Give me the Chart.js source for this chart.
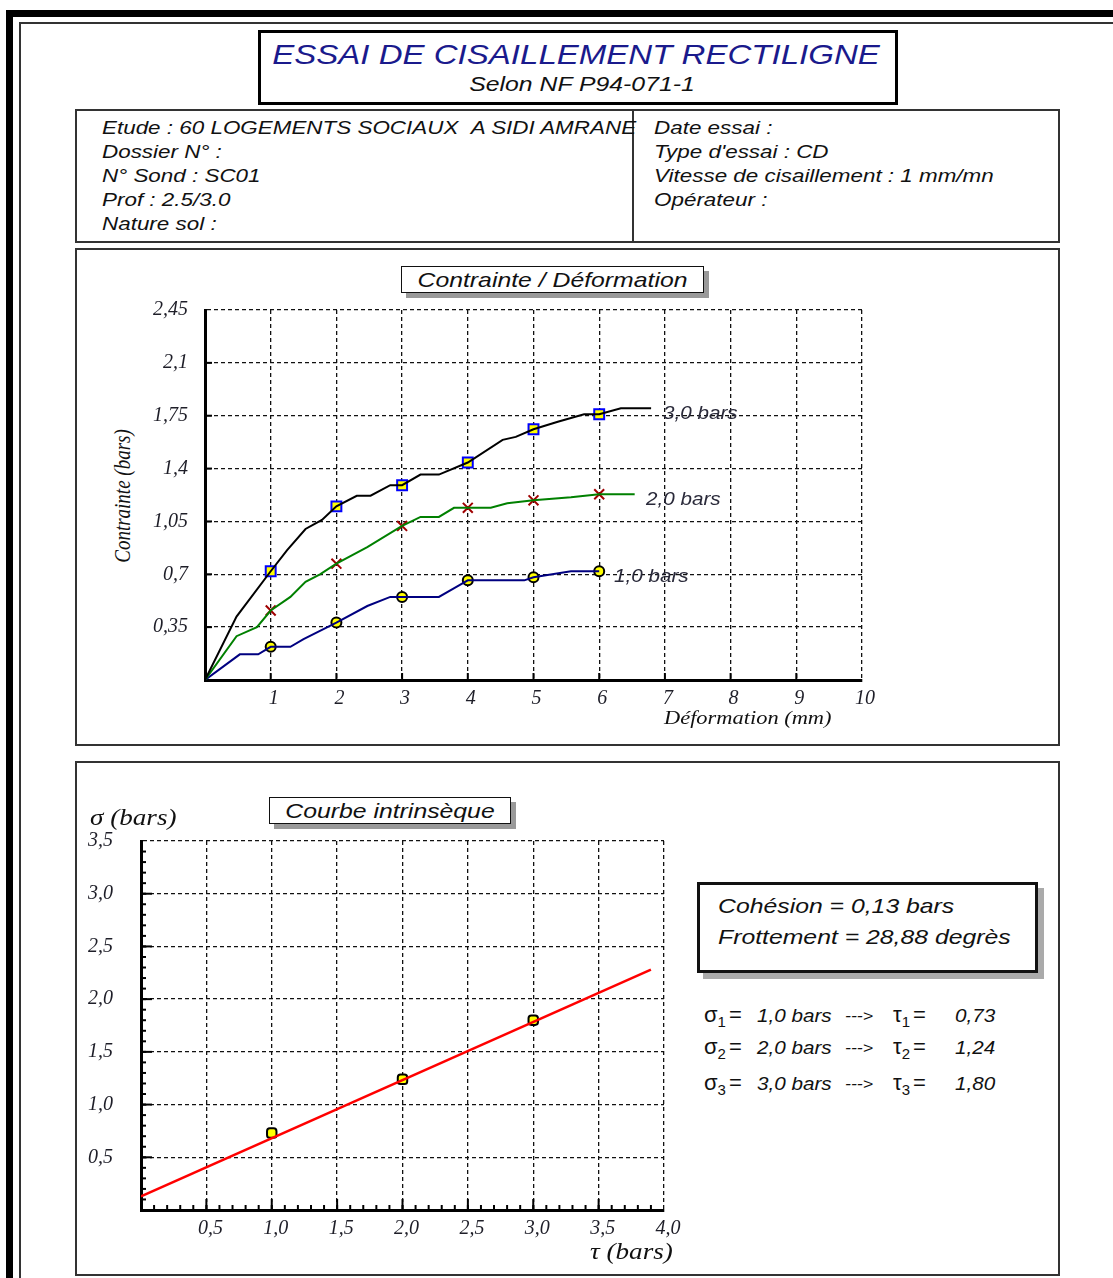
<!DOCTYPE html>
<html>
<head>
<meta charset="utf-8">
<script src="https://cdn.jsdelivr.net/npm/chart.js@4.4.1/dist/chart.umd.min.js"></script>
<style>
  * { box-sizing: border-box; }
  body { margin: 0; background: #fff; }
  #page { position: relative; width: 1113px; height: 1278px; overflow: hidden; background: #fff;
          font-family: "Liberation Sans", Arial, sans-serif; color: #111; }
  .abs { position: absolute; white-space: nowrap; }
  .box { position: absolute; border: 2px solid #333; background: #fff; }
  .it { font-style: italic; }
  .serif { font-family: "Liberation Serif", "Times New Roman", serif; font-style: italic; }
  .sx { transform: scaleX(1.18); transform-origin: left top; }
  .sxc { transform: scaleX(1.18); transform-origin: center top; }
  canvas { position: absolute; }
</style>
</head>
<body>
<div id="page">
  <!-- cadre -->
  <div class="abs" style="left:6px;top:10px;width:1107px;height:7px;background:#000"></div>
  <div class="abs" style="left:6px;top:10px;width:7px;height:1268px;background:#000"></div>
  <div class="abs" style="left:19px;top:22px;width:1094px;height:2px;background:#333"></div>
  <div class="abs" style="left:19px;top:22px;width:2px;height:1256px;background:#333"></div>

  <!-- titre -->
  <div class="box" style="left:258px;top:30px;width:640px;height:75px;border:3px solid #000"></div>
  <div class="abs it sxc" style="left:256px;top:39px;width:640px;text-align:center;font-size:28px;line-height:32px;color:#1a1a8c">ESSAI DE CISAILLEMENT RECTILIGNE</div>
  <div class="abs it sxc" style="left:262px;top:72px;width:640px;text-align:center;font-size:21px;line-height:24px">Selon NF P94-071-1</div>

  <!-- infos -->
  <div class="box" style="left:75px;top:109px;width:985px;height:134px"></div>
  <div class="abs" style="left:632px;top:110px;width:2px;height:132px;background:#333"></div>
  <div class="abs it sx" style="left:102px;top:116px;font-size:19px;line-height:24px">
    Etude : 60 LOGEMENTS SOCIAUX &nbsp;A SIDI AMRANE<br>Dossier N° :<br>N° Sond : SC01<br>Prof : 2.5/3.0<br>Nature sol :
  </div>
  <div class="abs it sx" style="left:654px;top:116px;font-size:19px;line-height:24px">
    Date essai :<br>Type d'essai : CD<br>Vitesse de cisaillement : 1 mm/mn<br>Opérateur :
  </div>

  <!-- panneau contrainte / deformation -->
  <div class="box" style="left:75px;top:248px;width:985px;height:498px"></div>
  <div class="box" style="left:401px;top:266px;width:303px;height:27px;border:1.5px solid #111;box-shadow:5px 5px 0 #999"></div>
  <div class="abs it sxc" style="left:401px;top:267px;width:303px;text-align:center;font-size:21px;line-height:25px">Contrainte / Déformation</div>
  <canvas id="chartTop" width="735" height="425" style="left:145px;top:295px;width:735px;height:425px"></canvas>
  <div class="abs serif" style="left:123px;top:496px;font-size:19px;line-height:22px;transform:translate(-50%,-50%) rotate(-90deg) scaleY(1.18)">Contrainte (bars)</div>
  <div class="abs serif sx" style="left:664px;top:706px;font-size:19px;line-height:24px">Déformation (mm)</div>
  <div class="abs it sx" style="left:663px;top:402px;font-size:17.5px;line-height:22px;color:#2a2a3a">3,0 bars</div>
  <div class="abs it sx" style="left:646px;top:488px;font-size:17.5px;line-height:22px;color:#2a2a3a">2,0 bars</div>
  <div class="abs it sx" style="left:614px;top:565px;font-size:17.5px;line-height:22px;color:#2a2a3a">1,0 bars</div>

  <!-- panneau courbe intrinseque -->
  <div class="box" style="left:75px;top:761px;width:985px;height:515px"></div>
  <div class="box" style="left:269px;top:797px;width:242px;height:27px;border:1.5px solid #111;box-shadow:5px 5px 0 #999"></div>
  <div class="abs it sxc" style="left:269px;top:798px;width:242px;text-align:center;font-size:21px;line-height:25px">Courbe intrinsèque</div>
  <canvas id="chartBottom" width="603" height="419" style="left:81px;top:826px;width:603px;height:419px"></canvas>
  <div class="abs serif sx" style="left:90px;top:805px;font-size:23px;line-height:26px">σ (bars)</div>
  <div class="abs serif sx" style="left:590px;top:1239px;font-size:23px;line-height:26px">τ (bars)</div>

  <div class="box" style="left:697px;top:882px;width:341px;height:91px;border:3px solid #111;box-shadow:6px 6px 0 #aaa"></div>
  <div class="abs it sx" style="left:718px;top:893px;font-size:21px;line-height:26px">Cohésion = 0,13 bars</div>
  <div class="abs it sx" style="left:718px;top:924px;font-size:21px;line-height:26px">Frottement = 28,88 degrès</div>

  <div id="results"></div>
</div>

<script>
// courbes contrainte / deformation (x en mm, y en bars)
const defo3 = [0, 0.48, 1, 1.25, 1.53, 1.78, 2, 2.31, 2.52, 2.82, 3, 3.28, 3.56, 4, 4.53, 4.73, 5, 5.37, 5.77, 6, 6.33, 6.79];
const contr3 = [0, 0.42, 0.72, 0.86, 1.0, 1.06, 1.15, 1.22, 1.22, 1.29, 1.29, 1.36, 1.36, 1.44, 1.59, 1.61, 1.66, 1.71, 1.76, 1.76, 1.80, 1.80];
const defo2 = [0, 0.48, 0.79, 1, 1.3, 1.53, 1.75, 2, 2.47, 3, 3.28, 3.56, 3.79, 4, 4.35, 4.6, 5, 5.57, 6, 6.54];
const contr2 = [0, 0.29, 0.35, 0.46, 0.55, 0.65, 0.70, 0.77, 0.88, 1.02, 1.08, 1.08, 1.14, 1.14, 1.14, 1.17, 1.19, 1.21, 1.23, 1.23];
const defo1 = [0, 0.53, 0.81, 1, 1.3, 1.5, 2, 2.47, 2.82, 3, 3.56, 3.84, 4, 4.86, 5, 5.57, 6];
const contr1 = [0, 0.17, 0.17, 0.22, 0.22, 0.27, 0.38, 0.49, 0.55, 0.55, 0.55, 0.62, 0.66, 0.66, 0.68, 0.72, 0.72];

const topXTicks = [0, 1, 2, 3, 4, 5, 6, 7, 8, 9, 10];
const topXLabels = ['', '1', '2', '3', '4', '5', '6', '7', '8', '9', '10'];
const topYTicks = [0, 0.35, 0.7, 1.05, 1.4, 1.75, 2.1, 2.45];
const topYLabels = ['', '0,35', '0,7', '1,05', '1,4', '1,75', '2,1', '2,45'];

// courbe intrinseque
const sigma = [1.0, 2.0, 3.0];
const tau = [0.73, 1.24, 1.80];
const droiteX = [0, 3.9];
const droiteY = [0.13, 2.28];
const botXTicks = [0, 0.5, 1, 1.5, 2, 2.5, 3, 3.5, 4];
const botXLabels = ['', '0,5', '1,0', '1,5', '2,0', '2,5', '3,0', '3,5', '4,0'];
const botYTicks = [0, 0.5, 1, 1.5, 2, 2.5, 3, 3.5];
const botYLabels = ['', '0,5', '1,0', '1,5', '2,0', '2,5', '3,0', '3,5'];

function pts(xs, ys) { return xs.map((x, i) => ({ x: x, y: ys[i] })); }
function marks(xs, ys) { return pts(xs, ys).filter(p => p.x > 0 && Number.isInteger(p.x)); }

// petits traits vers l'interieur des axes
const insideTicks = {
  id: 'insideTicks',
  afterDraw(chart, args, opts) {
    const ctx = chart.ctx, a = chart.chartArea;
    const xs = chart.scales.x, ys = chart.scales.y;
    ctx.save();
    ctx.strokeStyle = '#000';
    ctx.lineWidth = 2;
    const draw = (scale, step, len) => {
      if (!step) return;
      const n = Math.round((scale.max - scale.min) / step);
      for (let i = 1; i < n; i++) {
        const v = scale.min + i * step;
        const p = scale.getPixelForValue(v);
        ctx.beginPath();
        if (scale.axis === 'x') { ctx.moveTo(p, a.bottom); ctx.lineTo(p, a.bottom - len); }
        else { ctx.moveTo(a.left, p); ctx.lineTo(a.left + len, p); }
        ctx.stroke();
      }
    };
    draw(xs, opts.xMinor, opts.minorLen);
    draw(ys, opts.yMinor, opts.minorLen);
    draw(xs, opts.xMajor, opts.majorLen);
    draw(ys, opts.yMajor, opts.majorLen);
    ctx.restore();
  }
};

const tickFont = { family: 'Liberation Serif', style: 'italic', size: 20 };

function axis(ticks, labels, min, max, pad, off, fitSize, isX) {
  return {
    type: 'linear', min: min, max: max,
    afterBuildTicks: s => { s.ticks = ticks.map(v => ({ value: v })); },
    afterFit: s => {
      if (isX) s.height = fitSize; else s.width = fitSize;
      s.paddingTop = 0; s.paddingBottom = 0; s.paddingLeft = 0; s.paddingRight = 0;
    },
    ticks: {
      font: tickFont, color: '#1e1e28', padding: pad, labelOffset: off,
      autoSkip: false, maxRotation: 0,
      callback: (v, i) => labels[i]
    },
    grid: { color: '#111', lineWidth: 1.3, drawTicks: false },
    border: { display: true, color: '#000', width: 3, dash: [4, 3] }
  };
}

new Chart(document.getElementById('chartTop'), {
  type: 'line',
  data: {
    datasets: [
      { data: pts(defo3, contr3), borderColor: '#000', borderWidth: 2, pointRadius: 0 },
      { data: pts(defo2, contr2), borderColor: '#008000', borderWidth: 2, pointRadius: 0 },
      { data: pts(defo1, contr1), borderColor: '#000080', borderWidth: 2, pointRadius: 0 },
      { data: marks(defo3, contr3), showLine: false, pointStyle: 'rect', pointRadius: 7,
        backgroundColor: '#ffff00', borderColor: '#0000ff', borderWidth: 2 },
      { data: marks(defo2, contr2), showLine: false, pointStyle: 'crossRot', pointRadius: 7,
        borderColor: '#a00000', borderWidth: 2 },
      { data: marks(defo1, contr1), showLine: false, pointStyle: 'circle', pointRadius: 5,
        backgroundColor: '#ffff00', borderColor: '#000', borderWidth: 2 }
    ]
  },
  options: {
    responsive: false, animation: false,
    layout: { padding: { top: 15, right: 18, left: 0, bottom: 0 } },
    plugins: { legend: { display: false }, tooltip: { enabled: false },
      insideTicks: { xMajor: 1, yMajor: 0.35, majorLen: 7 } },
    elements: { line: { tension: 0 } },
    scales: {
      x: axis(topXTicks, topXLabels, 0, 10, 7, 3, 40, true),
      y: axis(topYTicks, topYLabels, 0, 2.45, 17, 0, 60, false)
    }
  },
  plugins: [insideTicks]
});

new Chart(document.getElementById('chartBottom'), {
  type: 'line',
  data: {
    datasets: [
      { data: pts(droiteX, droiteY), borderColor: '#ff0000', borderWidth: 2.5, pointRadius: 0 },
      { data: pts(sigma, tau), showLine: false, pointStyle: 'rectRounded', pointRadius: 5.5,
        backgroundColor: '#ffff00', borderColor: '#000', borderWidth: 2 }
    ]
  },
  options: {
    responsive: false, animation: false,
    layout: { padding: { top: 15, right: 20, left: 0, bottom: 0 } },
    plugins: { legend: { display: false }, tooltip: { enabled: false },
      insideTicks: { xMajor: 0.5, yMajor: 0.5, xMinor: 0.1, yMinor: 0.1, majorLen: 11, minorLen: 5 } },
    scales: {
      x: axis(botXTicks, botXLabels, 0, 4, 7, 4, 35, true),
      y: axis(botYTicks, botYLabels, 0, 3.5, 28, 0, 60, false)
    }
  },
  plugins: [insideTicks]
});

// lignes sigma -> tau
const res = document.getElementById('results');
const rowsTop = [1003, 1035, 1071];
sigma.forEach((s, i) => {
  const n = i + 1;
  const t = tau[i].toFixed(2).replace('.', ',');
  const sv = s.toFixed(1).replace('.', ',');
  res.insertAdjacentHTML('beforeend',
    '<div class="abs" style="left:704px;top:' + rowsTop[i] + 'px;font-size:22px;line-height:24px">σ<span style="font-size:15px;position:relative;top:5px">' + n + '</span><span style="margin-left:3px">=</span></div>' +
    '<div class="abs it sx" style="left:757px;top:' + (rowsTop[i] + 2) + 'px;font-size:17.5px;line-height:22px">' + sv + ' bars</div>' +
    '<div class="abs it sx" style="left:845px;top:' + (rowsTop[i] + 2) + 'px;font-size:15px;line-height:22px">---&gt;</div>' +
    '<div class="abs" style="left:893px;top:' + rowsTop[i] + 'px;font-size:22px;line-height:24px">τ<span style="font-size:15px;position:relative;top:5px">' + n + '</span><span style="margin-left:3px">=</span></div>' +
    '<div class="abs it sx" style="left:955px;top:' + (rowsTop[i] + 2) + 'px;font-size:17.5px;line-height:22px">' + t + '</div>');
});
</script>
</body>
</html>
